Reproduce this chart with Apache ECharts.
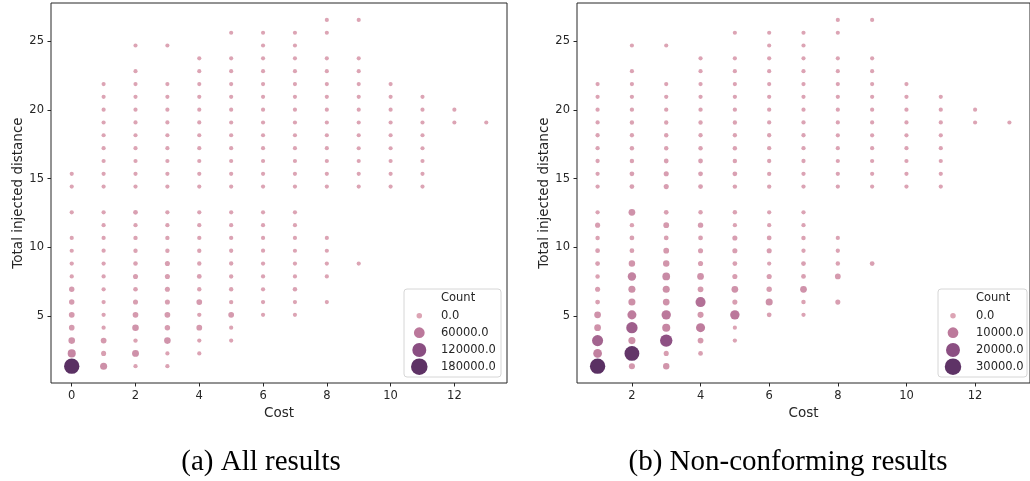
<!DOCTYPE html>
<html>
	<head>
		<meta charset="UTF-8">
		<title></title>
		<style>
			body{
				margin: 0;
				background-color: #fff;
			}
		</style>
	</head>
	<script src="https://cdn.jsdelivr.net/npm/echarts@6.0.0/dist/echarts.min.js"></script>
	<body>
		<div id="main" style="width: 1030px;height:481px;"></div>
	</body>
	<script>
		var _ = null

		// y levels (total injected distance), one per row of dots
		var distLevels = [1.37, 2.30, 3.23, 4.17, 5.10, 6.03, 6.96, 7.89, 8.83, 9.76, 10.69, 11.62, 12.55,
			14.42, 15.35, 16.28, 17.21, 18.15, 19.08, 20.01, 20.94, 21.87, 22.81, 23.74, 24.67, 25.60, 26.53]

		// (a) all results: cost 0..13, one row per distance level
		var costsA = [0, 1, 2, 3, 4, 5, 6, 7, 8, 9, 10, 11, 12, 13]
		var countsA = [
			[185000, 28000, 1100, 1100, _, _, _, _, _, _, _, _, _, _],
			[41000, 7400, 26000, 900, 900, _, _, _, _, _, _, _, _, _],
			[22300, 13600, 1900, 22300, 1200, 700, _, _, _, _, _, _, _, _],
			[12400, 1000, 22300, 10500, 13600, 600, _, _, _, _, _, _, _, _],
			[13600, 1000, 13600, 13600, 1500, 13600, 500, 400, _, _, _, _, _, _],
			[10500, 900, 7400, 7400, 13600, 1500, 1000, 500, 400, _, _, _, _, _],
			[10500, 900, 3700, 7400, 1900, 1900, 900, 3100, _, _, _, _, _, _],
			[1200, 1000, 7400, 7400, 5000, 1500, 1000, 700, 600, _, _, _, _, _],
			[900, 900, 3100, 7400, 1900, 1500, 900, 600, 500, 500, _, _, _, _],
			[600, 900, 1900, 1900, 1500, 1100, 900, 600, 500, _, _, _, _, _],
			[500, 900, 1500, 1500, 1200, 1000, 700, 600, 400, _, _, _, _, _],
			[_, 700, 1200, 1200, 1100, 900, 700, 500, _, _, _, _, _, _],
			[500, 900, 5000, 1200, 1100, 900, 600, 500, _, _, _, _, _, _],
			[300, 500, 600, 600, 500, 500, 400, 400, 300, 300, 200, 200, _, _],
			[300, 500, 600, 600, 500, 500, 400, 400, 300, 300, 200, 200, _, _],
			[_, 400, 500, 500, 500, 400, 400, 300, 300, 300, 200, 200, _, _],
			[_, 400, 500, 500, 400, 400, 300, 300, 300, 200, 200, 200, _, _],
			[_, 400, 400, 400, 400, 400, 300, 300, 300, 200, 200, 200, _, _],
			[_, 300, 400, 400, 400, 300, 300, 300, 200, 200, 200, 200, 100, 100],
			[_, 300, 300, 300, 300, 300, 300, 200, 200, 200, 200, 100, 100, _],
			[_, 300, 300, 300, 300, 300, 200, 200, 200, 200, 100, 100, _, _],
			[_, 200, 300, 200, 300, 200, 200, 200, 200, 100, 100, _, _, _],
			[_, _, 200, _, 200, 200, 200, 200, 100, 100, _, _, _, _],
			[_, _, _, _, 200, 200, 200, 100, 100, 100, _, _, _, _],
			[_, _, 100, 100, _, _, 100, 100, _, _, _, _, _, _],
			[_, _, _, _, _, 100, 100, 100, 100, _, _, _, _, _],
			[_, _, _, _, _, _, _, _, 100, 100, _, _, _, _]
		]

		// (b) non-conforming results: cost 1..13
		var costsB = [1, 2, 3, 4, 5, 6, 7, 8, 9, 10, 11, 12, 13]
		var countsB = [
			[31000, 2850, 3450, _, _, _, _, _, _, _, _, _, _],
			[8400, 29000, 1300, 820, _, _, _, _, _, _, _, _, _],
			[15000, 4700, 19400, 2300, 190, _, _, _, _, _, _, _, _],
			[4050, 16000, 6850, 9250, 120, _, _, _, _, _, _, _, _],
			[4050, 9250, 10100, 2850, 10100, 820, 190, _, _, _, _, _, _],
			[820, 4700, 4050, 12000, 1300, 4700, 400, 1300, _, _, _, _, _],
			[1300, 4700, 4700, 2300, 4050, 1750, 4050, _, _, _, _, _, _],
			[400, 7600, 6100, 4050, 1300, 1300, 820, 2300, _, _, _, _, _],
			[820, 3450, 3450, 1300, 820, 190, 820, 400, 820, _, _, _, _],
			[820, 820, 2300, 1300, 1300, 1300, 190, 190, _, _, _, _, _],
			[400, 820, 820, 820, 1300, 820, 400, 190, _, _, _, _, _],
			[1300, 400, 2300, 1750, 190, 190, 190, _, _, _, _, _, _],
			[190, 4050, 820, 400, 400, 190, 190, _, _, _, _, _, _],
			[190, 820, 1300, 820, 380, 250, 190, 190, 120, 120, 120, _, _],
			[190, 820, 1300, 820, 820, 250, 190, 190, 120, 120, 120, _, _],
			[190, 380, 820, 820, 400, 250, 190, 120, 120, 120, 120, _, _],
			[190, 380, 380, 380, 380, 250, 190, 120, 120, 120, 120, _, _],
			[190, 250, 380, 250, 250, 250, 190, 120, 120, 120, 120, _, _],
			[190, 250, 250, 250, 250, 190, 190, 120, 120, 120, 120, 60, 60],
			[120, 250, 250, 250, 190, 190, 120, 120, 120, 120, 120, 60, _],
			[120, 190, 190, 190, 190, 120, 120, 120, 120, 120, 60, _, _],
			[120, 120, 120, 120, 120, 120, 120, 120, 60, 60, _, _, _],
			[_, 120, _, 120, 120, 120, 120, 60, 60, _, _, _, _],
			[_, _, _, 120, 120, 120, 60, 60, 60, _, _, _, _],
			[_, 60, 60, _, _, 60, 60, _, _, _, _, _, _],
			[_, _, _, _, 60, 60, 60, 60, _, _, _, _, _],
			[_, _, _, _, _, _, _, 60, 60, _, _, _, _]
		]

		// legend entries
		var legendA = [0, 60000, 120000, 180000]
		var legendB = [0, 10000, 20000, 30000]
		var legendLabelsA = ['0.0', '60000.0', '120000.0', '180000.0']
		var legendLabelsB = ['0.0', '10000.0', '20000.0', '30000.0']

		var xTicksA = [0, 2, 4, 6, 8, 10, 12]
		var xTicksB = [2, 4, 6, 8, 10, 12]
		var yTicks = [5, 10, 15, 20, 25]

		var maxA = 185000
		var maxB = 31000

		// pink -> purple palette
		var stops = [
			[0, [220, 164, 180]],
			[0.32, [188, 121, 155]],
			[0.65, [138, 78, 130]],
			[1, [90, 48, 99]]
		]

		function colorOf(t) {
			t = Math.max(0, Math.min(1, t))
			for (let i = 1; i < stops.length; i++) {
				if (t <= stops[i][0]) {
					let a = stops[i - 1], b = stops[i]
					let f = (t - a[0]) / (b[0] - a[0])
					let c = a[1].map(function (v, j) { return Math.round(v + (b[1][j] - v) * f) })
					return 'rgb(' + c.join(',') + ')'
				}
			}
			return 'rgb(90,48,99)'
		}

		// diameter in px, area grows linearly with count
		function sizeOf(c, max) {
			return Math.sqrt(17 + 218 * c / max)
		}

		function buildData(costs, counts) {
			let out = []
			for (let j = 0; j < counts.length; j++) {
				for (let i = 0; i < costs.length; i++) {
					if (counts[j][i] != null) {
						out.push([costs[i], distLevels[j], counts[j][i]])
					}
				}
			}
			return out
		}

		var font = 'DejaVu Sans'
		var ink = '#262626'

		function makeX(idx, min, max, ticks) {
			return {
				gridIndex: idx,
				type: 'value',
				min: min,
				max: max,
				splitLine: { show: false },
				axisLine: { show: false, onZero: false },
				axisTick: { show: true, length: 3.5, customValues: ticks, lineStyle: { color: ink, width: 1 } },
				axisLabel: { customValues: ticks, margin: 7, fontSize: 11.5, color: ink, fontFamily: font },
				name: 'Cost',
				nameLocation: 'middle',
				nameGap: 23,
				nameTextStyle: { fontSize: 13.5, color: ink, fontFamily: font }
			}
		}

		function makeY(idx) {
			return {
				gridIndex: idx,
				type: 'value',
				min: 0.15,
				max: 27.76,
				splitLine: { show: false },
				axisLine: { show: false, onZero: false },
				axisTick: { show: true, length: 3.5, customValues: yTicks, lineStyle: { color: ink, width: 1 } },
				axisLabel: { customValues: yTicks, margin: 7, fontSize: 11.5, color: ink, fontFamily: font },
				name: 'Total injected distance',
				nameLocation: 'middle',
				nameGap: 26,
				nameTextStyle: { fontSize: 13.5, color: ink, fontFamily: font }
			}
		}

		function makeSeries(idx, data, max) {
			return {
				type: 'scatter',
				xAxisIndex: idx,
				yAxisIndex: idx,
				data: data,
				silent: true,
				symbolSize: function (v) { return sizeOf(v[2], max) },
				itemStyle: {
					opacity: 1,
					color: function (p) { return colorOf(p.value[2] / max) }
				}
			}
		}

		// size/hue legend box drawn as graphic
		function makeLegend(x, w, cx, tx, values, labels, max) {
			let els = [{
				type: 'rect',
				shape: { x: x, y: 289, width: w, height: 88, r: 3 },
				style: { fill: 'rgba(255,255,255,0.85)', stroke: '#d6d6d6', lineWidth: 1 }
			}, {
				type: 'text',
				x: tx, y: 298,
				style: { text: 'Count', font: '11.5px ' + font, fill: ink, verticalAlign: 'middle' }
			}]
			let rows = [315.7, 332.7, 350, 366.7]
			for (let i = 0; i < values.length; i++) {
				els.push({
					type: 'circle',
					shape: { cx: cx, cy: rows[i], r: (sizeOf(values[i], max) + 1.4) / 2 },
					style: { fill: colorOf(values[i] / max) }
				})
				els.push({
					type: 'text',
					x: tx, y: rows[i],
					style: { text: labels[i], font: '11.5px ' + font, fill: ink, verticalAlign: 'middle' }
				})
			}
			return els
		}

		var myChart = echarts.init(document.getElementById('main'), null, { renderer: 'canvas' })

		var option = {
			animation: false,
			backgroundColor: '#fff',
			grid: [
				{ left: 51, top: 3, width: 456, height: 380, show: true, borderColor: ink, borderWidth: 1, backgroundColor: 'transparent' },
				{ left: 577, top: 3, width: 456, height: 380, show: true, borderColor: ink, borderWidth: 1, backgroundColor: 'transparent' }
			],
			xAxis: [makeX(0, -0.65, 13.65, xTicksA), makeX(1, 0.4, 13.6, xTicksB)],
			yAxis: [makeY(0), makeY(1)],
			series: [
				makeSeries(0, buildData(costsA, countsA), maxA),
				makeSeries(1, buildData(costsB, countsB), maxB)
			],
			graphic: makeLegend(404, 97, 419.3, 441, legendA, legendLabelsA, maxA)
				.concat(makeLegend(938, 89, 953, 976, legendB, legendLabelsB, maxB))
				.concat([{
					type: 'text', x: 261, y: 462,
					style: { text: '(a) All results', font: '29px "Liberation Serif"', fill: '#000', align: 'center', verticalAlign: 'middle' }
				}, {
					type: 'text', x: 788, y: 462,
					style: { text: '(b) Non-conforming results', font: '29px "Liberation Serif"', fill: '#000', align: 'center', verticalAlign: 'middle' }
				}])
		}

		myChart.setOption(option)
	</script>
</html>
